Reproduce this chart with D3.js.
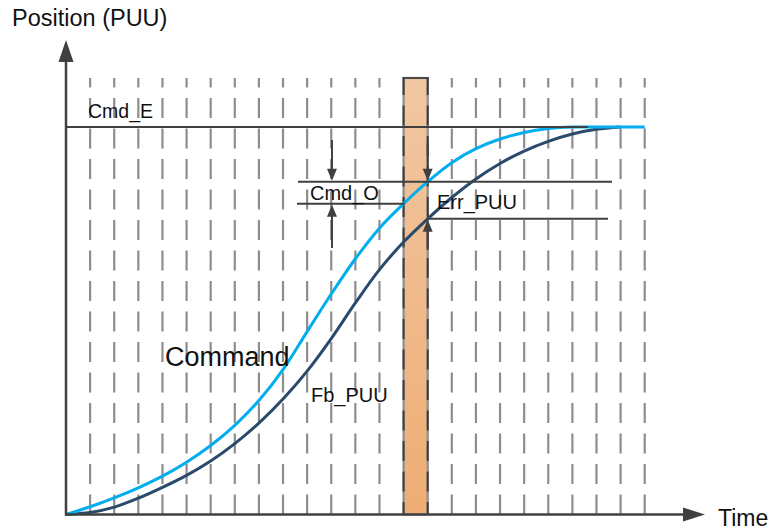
<!DOCTYPE html>
<html>
<head>
<meta charset="utf-8">
<script src="https://cdn.jsdelivr.net/npm/d3@7"></script>
<style>
  html, body { margin: 0; padding: 0; background: #fff; }
  svg { display: block; font-family: Arial, "Liberation Sans", sans-serif; }
</style>
</head>
<body>
<svg id="chart" width="774" height="531"></svg>
<script>
// ---- data (time in grid units, position in % of Cmd_E) ----
const times = [0,1,2,3,4,5,6,7,8,9,10,11,12,13,14,15,16,17,18,19,20,21,22,23,24];
const commandPos = [0,2.0,4.3,6.9,9.9,13.5,17.8,23.0,29.4,37.4,47.2,56.9,66.0,73.9,80.2,85.9,90.8,94.4,96.9,98.6,99.6,100,100,100,100];
const feedbackTimes = [0,1,2,3,4,5,6,7,8,9,10,11,12,13,14,15,16,17,18,19,20,21,22,23];
const feedbackPos = [0,0.5,1.9,4.2,7.0,10.1,13.8,18.3,23.6,29.8,37.0,45.4,54.6,63.2,70.3,76.3,81.8,86.6,90.6,93.8,96.3,98.2,99.4,100];
const gridTimes = [1,2,3,4,5,6,7,8,9,10,11,12,13,14,15,16,17,18,19,20,21,22,23,24];
const sampleWindow = [14, 15];     // highlighted sampling interval
const cmdEnd = 100;                // Cmd_E level
const axisLabels = { y: "Position (PUU)", x: "Time" };
const seriesLabels = { command: "Command", feedback: "Fb_PUU" };
const annotLabels = { cmdE: "Cmd_E", cmdO: "Cmd_O", err: "Err_PUU" };

// ---- layout ----
const svg = d3.select("#chart");
const x = d3.scaleLinear().domain([0, 26.5]).range([66, 705]);
const y = d3.scaleLinear().domain([0, 100]).range([514.5, 127]);
const yTop = 40, gridTop = 78, xEnd = 705;
const axisColor = "#404040";

const defs = svg.append("defs");
const grad = defs.append("linearGradient").attr("id", "barGrad")
  .attr("x1", 0).attr("y1", 0).attr("x2", 0).attr("y2", 1);
grad.append("stop").attr("offset", "0%").attr("stop-color", "#F2C7A1");
grad.append("stop").attr("offset", "100%").attr("stop-color", "#EEAD74");

// dashed grid
svg.append("g").selectAll("line").data(gridTimes.filter(t => t < sampleWindow[0] || t > sampleWindow[1]))
  .join("line")
  .attr("x1", d => x(d)).attr("x2", d => x(d))
  .attr("y1", y(0)).attr("y2", gridTop)
  .attr("stroke", "#8e8e8e").attr("stroke-width", 2.2)
  .attr("stroke-dasharray", "20,10.5");

// highlighted sampling bar
svg.append("rect")
  .attr("x", x(sampleWindow[0])).attr("y", gridTop)
  .attr("width", x(sampleWindow[1]) - x(sampleWindow[0]))
  .attr("height", y(0) - gridTop)
  .attr("fill", "url(#barGrad)")
  .attr("stroke", "#8e8e8e").attr("stroke-width", 2.2);
svg.append("line")
  .attr("x1", x(sampleWindow[0]) - 1).attr("x2", x(sampleWindow[1]) + 1)
  .attr("y1", gridTop).attr("y2", gridTop)
  .attr("stroke", "#4a4a4a").attr("stroke-width", 2);
svg.append("g").selectAll("line").data(sampleWindow).join("line")
  .attr("x1", d => x(d)).attr("x2", d => x(d))
  .attr("y1", y(0)).attr("y2", gridTop)
  .attr("stroke", "#3c3c3c").attr("stroke-width", 2)
  .attr("stroke-dasharray", "20,10.5")
  .attr("stroke-dashoffset", 38);

// curves
const line = d3.line().curve(d3.curveCatmullRom.alpha(0.5));
svg.append("path")
  .attr("d", line(feedbackTimes.map((t, i) => [x(t), y(feedbackPos[i])])))
  .attr("fill", "none").attr("stroke", "#2A4A6C").attr("stroke-width", 3);
svg.append("path")
  .attr("d", line(times.map((t, i) => [x(t), y(commandPos[i])])))
  .attr("fill", "none").attr("stroke", "#00AEEF").attr("stroke-width", 3);

// Cmd_E line
svg.append("line")
  .attr("x1", x(0)).attr("x2", 588)
  .attr("y1", y(cmdEnd)).attr("y2", y(cmdEnd))
  .attr("stroke", axisColor).attr("stroke-width", 2);

// annotation levels taken from the data
const iA = times.indexOf(sampleWindow[0]), iB = times.indexOf(sampleWindow[1]);
const cmdOld = commandPos[iA], cmdNew = commandPos[iB];
const fbNew = feedbackPos[feedbackTimes.indexOf(sampleWindow[1])];
const hl = [
  { x1: 298, x2: 612, v: cmdNew },
  { x1: 297, x2: x(sampleWindow[0]) + 1, v: cmdOld },
  { x1: x(sampleWindow[1]), x2: 608, v: fbNew }
];
svg.append("g").selectAll("line").data(hl).join("line")
  .attr("x1", d => d.x1).attr("x2", d => d.x2)
  .attr("y1", d => y(d.v)).attr("y2", d => y(d.v))
  .attr("stroke", axisColor).attr("stroke-width", 2);

// arrows
function arrow(xp, yFrom, yTip) {
  const dir = yTip > yFrom ? 1 : -1;
  const hLen = 12, hW = 5;
  svg.append("line").attr("x1", xp).attr("x2", xp)
    .attr("y1", yFrom).attr("y2", yTip - dir * hLen)
    .attr("stroke", axisColor).attr("stroke-width", 2);
  svg.append("path")
    .attr("d", `M${xp},${yTip - dir}L${xp - hW},${yTip - dir * (hLen + 1)}L${xp + hW},${yTip - dir * (hLen + 1)}Z`)
    .attr("fill", axisColor);
}
const xo = x(11.03);
arrow(xo, 140, y(cmdNew));
arrow(xo, 248, y(cmdOld));
arrow(x(sampleWindow[1]), 143, y(cmdNew));
arrow(x(sampleWindow[1]), 250, y(fbNew));

// axes with arrowheads
svg.append("line").attr("x1", x(0)).attr("x2", x(0)).attr("y1", y(0) + 1).attr("y2", yTop + 18)
  .attr("stroke", axisColor).attr("stroke-width", 2.5);
svg.append("path").attr("d", `M${x(0)},${yTop}L${x(0) - 7.5},${yTop + 22}L${x(0) + 7.5},${yTop + 22}Z`)
  .attr("fill", axisColor);
svg.append("line").attr("x1", x(0) - 1).attr("x2", xEnd - 18).attr("y1", y(0)).attr("y2", y(0))
  .attr("stroke", axisColor).attr("stroke-width", 2.5);
svg.append("path").attr("d", `M${xEnd},${y(0)}L${xEnd - 22},${y(0) - 7}L${xEnd - 22},${y(0) + 7}Z`)
  .attr("fill", axisColor);

// texts
const T = (tx, ty, s, size) => svg.append("text").attr("x", tx).attr("y", ty)
  .attr("font-size", size).attr("fill", "#111").text(s);
T(12, 26, axisLabels.y, 23.5);
T(718, 526, axisLabels.x, 23);
T(88, 117.5, annotLabels.cmdE, 19.5);
T(310, 200, annotLabels.cmdO, 20);
T(437, 209, annotLabels.err, 20);
T(165, 366, seriesLabels.command, 27);
T(311, 401.5, seriesLabels.feedback, 20);
</script>
</body>
</html>
